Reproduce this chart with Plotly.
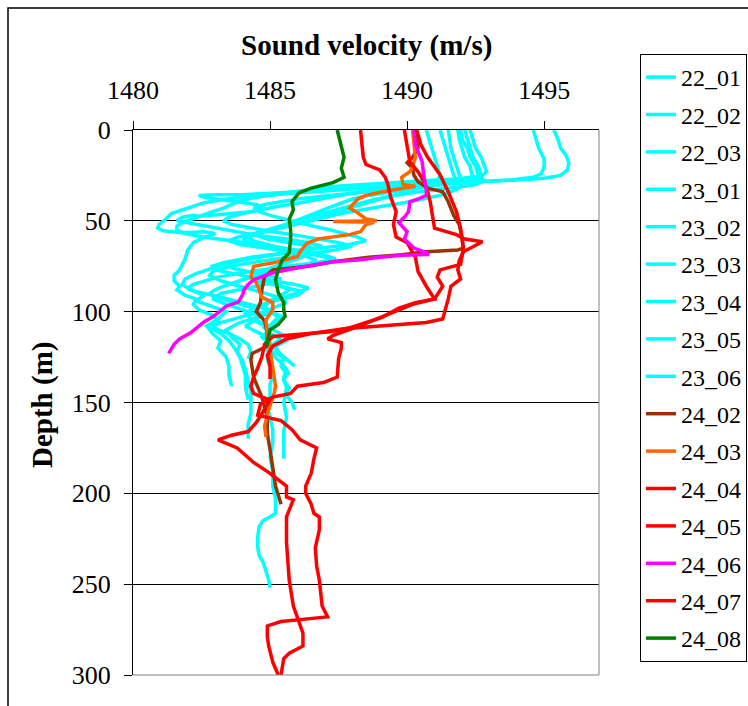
import plotly.graph_objects as go

# ---------------- data (depth in m, sound velocity in m/s) ----------------
series_names = ["22_01", "22_02", "22_03", "23_01", "23_02", "23_03", "23_04", "23_05", "23_06",
                "24_02", "24_03", "24_04", "24_05", "24_06", "24_07", "24_08"]
series_colors = ["#00FFFF"] * 9 + ["#993300", "#FF6600", "#FF0000", "#FF0000", "#FF00FF", "#FF0000", "#008000"]

d_22_01 = [0, 5, 10, 14, 18, 22, 25, 26.5, 27.5, 28.5, 29.5, 30.5, 32, 33.5, 35, 36.5, 38, 40, 43, 46, 49, 52, 54, 55.5, 56.5, 56, 57, 59, 62, 66, 71, 77, 80, 83, 86, 88, 91, 93, 96, 99, 102, 105, 108, 112, 116, 120, 125, 130, 135, 141]
v_22_01 = [1495.35, 1495.5, 1495.6, 1495.8, 1495.9, 1495.85, 1495.6, 1495.0, 1494.0, 1492.8, 1491.3, 1489.8, 1488.3, 1487.0, 1485.7, 1484.4, 1483.4, 1482.6, 1482.0, 1481.4, 1481.2, 1480.95, 1480.9, 1481.1, 1481.8, 1482.6, 1483.0, 1482.6, 1482.2, 1482.0, 1481.9, 1481.7, 1481.5, 1481.5, 1481.7, 1481.6, 1481.9, 1482.3, 1482.2, 1482.4, 1482.9, 1483.1, 1482.7, 1482.9, 1483.2, 1483.1, 1483.4, 1483.5, 1483.5, 1483.6]

d_22_02 = [0, 5, 10, 16, 20, 24, 26, 27.5, 28.5, 29.5, 30.5, 31.5, 33, 34.5, 35.6, 35.6, 36, 37, 39, 41, 43, 45, 46, 47, 47.5, 47, 48, 50, 52, 55, 58, 60, 62, 64, 66, 68, 70, 73, 76, 79, 82, 85, 88, 91, 94, 97, 100, 104, 108, 112, 116, 120, 125, 130, 135, 141, 148.5]
v_22_02 = [1494.6, 1494.7, 1494.8, 1495.0, 1495.0, 1494.9, 1494.6, 1493.8, 1492.5, 1491.0, 1489.6, 1488.3, 1486.9, 1485.4, 1484.0, 1483.0, 1482.4, 1482.6, 1483.6, 1484.5, 1484.8, 1484.3, 1483.6, 1482.9, 1482.4, 1482.2, 1481.8, 1481.6, 1482.3, 1483.4, 1484.5, 1485.6, 1486.4, 1486.9, 1486.3, 1485.4, 1484.3, 1483.5, 1482.9, 1482.3, 1481.9, 1481.8, 1482.1, 1482.6, 1482.3, 1482.9, 1483.4, 1483.1, 1482.7, 1483.2, 1483.5, 1483.7, 1483.9, 1484.0, 1484.1, 1484.1, 1484.2]

d_22_03 = [0, 5, 10, 15, 19, 23, 25.5, 27, 28, 29, 30, 31, 32.5, 34, 35.5, 37, 39, 41, 43, 45, 47, 49, 51, 53, 55, 57, 59, 61, 63, 65, 67, 69, 71, 73, 75, 77, 79, 81, 83, 85, 87, 89, 91, 94, 97, 100, 103, 106, 110, 114, 118, 122, 127, 132, 138, 144, 150, 156, 162, 170]
v_22_03 = [1492.3, 1492.4, 1492.5, 1492.7, 1492.8, 1492.9, 1492.7, 1491.8, 1490.6, 1489.4, 1488.3, 1487.4, 1486.6, 1485.9, 1485.2, 1484.5, 1483.9, 1483.6, 1483.3, 1482.9, 1482.5, 1482.1, 1481.8, 1481.6, 1481.6, 1481.9, 1482.6, 1483.6, 1484.6, 1485.5, 1486.3, 1487.0, 1487.4, 1486.7, 1485.6, 1484.6, 1483.8, 1483.1, 1482.6, 1482.2, 1482.0, 1482.3, 1482.9, 1483.7, 1484.5, 1485.1, 1484.6, 1483.9, 1483.4, 1483.6, 1483.9, 1483.8, 1484.0, 1484.1, 1484.2, 1484.3, 1484.3, 1484.3, 1484.2, 1484.2]

d_23_01 = [0, 5, 10, 15, 20, 25, 27, 28.5, 29.5, 31, 32.5, 34, 36, 38, 40, 42, 44, 46, 48, 50, 52, 54, 56, 58, 60, 62, 64, 66, 68, 70, 72, 74, 76, 78, 80, 83, 86, 89, 92, 95, 98, 101, 104, 107, 110, 113, 116, 119, 122, 125, 128, 132, 136, 142, 150, 158, 166, 174, 181]
v_23_01 = [1491.95, 1492.0, 1492.2, 1492.3, 1492.5, 1492.6, 1492.7, 1492.2, 1491.0, 1489.9, 1489.0, 1488.3, 1487.6, 1486.9, 1486.1, 1485.3, 1484.6, 1484.0, 1483.5, 1483.3, 1483.6, 1484.3, 1485.1, 1486.0, 1486.8, 1487.5, 1488.0, 1487.4, 1486.5, 1485.6, 1484.7, 1483.9, 1483.3, 1482.9, 1482.8, 1483.2, 1483.9, 1484.6, 1485.3, 1485.6, 1485.1, 1484.6, 1484.4, 1484.8, 1485.1, 1485.5, 1485.6, 1485.2, 1485.3, 1485.5, 1485.4, 1485.6, 1485.5, 1485.6, 1485.5, 1485.6, 1485.5, 1485.5, 1485.5]

d_23_02 = [0, 5, 10, 15, 20, 24, 27, 29, 30.5, 32, 33.5, 35, 36.5, 38, 39.5, 41, 43, 45, 47, 49, 51, 53, 55, 57, 59, 61, 63, 65, 67, 69, 71, 73, 75, 77, 79, 81, 83, 85, 87, 89, 92, 95, 98, 101, 104, 107, 110, 114, 118, 122, 126, 130, 134, 138, 142, 146, 150, 154]
v_23_02 = [1491.85, 1491.9, 1492.0, 1492.1, 1492.3, 1492.35, 1492.4, 1492.0, 1491.1, 1490.0, 1488.9, 1487.8, 1486.9, 1486.0, 1485.3, 1484.8, 1484.4, 1484.6, 1485.0, 1485.5, 1486.0, 1486.6, 1487.2, 1487.7, 1488.2, 1488.5, 1487.9, 1486.9, 1485.9, 1484.9, 1484.0, 1483.3, 1482.9, 1483.0, 1483.6, 1484.3, 1485.1, 1485.9, 1486.4, 1486.1, 1485.5, 1484.9, 1484.4, 1484.1, 1484.3, 1484.7, 1485.0, 1484.7, 1485.0, 1485.3, 1485.5, 1485.4, 1485.6, 1485.5, 1485.7, 1485.6, 1485.8, 1485.9]

d_23_03 = [0, 5, 10, 15, 20, 25, 29, 32, 34, 36, 38, 40, 42, 44, 46, 48, 50, 52, 54, 56, 58, 60, 62, 64, 66, 68, 70, 72, 74, 76, 78, 80, 82, 84, 86, 88, 90, 93, 96, 99, 102, 105, 108, 111, 114, 117, 120, 124, 128, 132, 135]
v_23_03 = [1491.5, 1491.55, 1491.6, 1491.7, 1491.8, 1491.9, 1492.0, 1491.9, 1491.6, 1491.2, 1490.6, 1489.9, 1489.1, 1488.3, 1487.6, 1487.0, 1486.5, 1486.0, 1485.4, 1484.8, 1484.5, 1484.9, 1485.7, 1486.5, 1486.1, 1485.4, 1484.6, 1483.9, 1483.4, 1483.6, 1484.2, 1484.9, 1485.4, 1485.1, 1484.5, 1483.8, 1483.2, 1482.9, 1483.4, 1484.0, 1484.6, 1484.4, 1484.1, 1484.5, 1484.9, 1485.0, 1484.8, 1485.1, 1485.4, 1485.6, 1485.7]

d_23_04 = [0, 5, 10, 15, 20, 25, 28, 30, 32, 34, 36, 38, 40, 43, 46, 49, 52, 55, 57, 59, 61, 63, 65, 67, 69, 71, 73, 75, 77, 79, 81, 83, 85, 87, 89, 91, 93, 95, 97, 100, 103, 106, 109, 112, 115, 118, 121, 125, 130]
v_23_04 = [1491.2, 1491.3, 1491.4, 1491.5, 1491.6, 1491.7, 1491.8, 1491.2, 1490.3, 1489.4, 1488.6, 1488.0, 1487.6, 1487.1, 1486.6, 1486.1, 1485.6, 1485.0, 1484.4, 1483.8, 1483.5, 1483.9, 1484.8, 1485.8, 1486.7, 1487.3, 1487.0, 1486.3, 1485.5, 1484.8, 1484.3, 1484.5, 1485.1, 1485.7, 1486.2, 1486.0, 1485.4, 1484.9, 1484.6, 1485.0, 1485.5, 1485.2, 1484.8, 1485.0, 1485.4, 1485.1, 1484.9, 1485.5, 1485.9]

d_23_05 = [0, 5, 10, 15, 20, 25, 28, 30, 32, 34, 36, 38, 40, 42, 44, 46, 48, 50, 52, 54, 56, 58, 60, 62, 64, 66, 68, 70, 72, 74, 76, 78, 80, 82, 84, 86, 88, 90, 92, 94, 96, 98, 100, 102, 104, 106, 108, 110, 112, 115, 118, 122, 126]
v_23_05 = [1490.7, 1490.8, 1490.9, 1491.0, 1491.1, 1491.2, 1491.1, 1490.8, 1490.4, 1490.0, 1489.5, 1489.0, 1488.5, 1488.1, 1487.7, 1487.3, 1486.9, 1486.4, 1485.8, 1485.2, 1484.7, 1484.3, 1484.0, 1484.3, 1484.8, 1485.4, 1485.9, 1486.4, 1486.7, 1486.3, 1485.7, 1485.1, 1484.6, 1484.1, 1483.7, 1483.3, 1483.0, 1482.8, 1483.0, 1483.5, 1484.0, 1484.4, 1484.6, 1484.2, 1483.7, 1483.2, 1482.9, 1483.1, 1483.5, 1483.9, 1484.2, 1484.3, 1484.2]

d_23_06 = [0, 5, 10, 15, 20, 25, 28, 30, 31.5, 33, 35, 37, 39, 41, 43, 45, 47, 49, 51, 53, 55, 57, 59, 61, 63, 65, 67, 70, 73, 76, 79, 82, 85, 88, 91, 94, 97, 100, 103, 106, 110, 114, 118, 122, 126, 130, 135, 140, 146, 152, 158, 165, 172, 180, 188, 196, 203, 208, 211, 213, 215, 218.5, 224, 229.6, 234, 238, 243, 247.6, 252]
v_23_06 = [1492.1, 1492.2, 1492.3, 1492.4, 1492.6, 1492.7, 1492.8, 1492.5, 1491.8, 1490.9, 1490.0, 1489.2, 1488.6, 1488.1, 1487.6, 1487.2, 1486.7, 1486.2, 1485.8, 1485.3, 1484.9, 1484.5, 1484.2, 1484.4, 1484.9, 1485.4, 1485.9, 1486.2, 1485.6, 1485.0, 1484.6, 1484.9, 1485.3, 1485.7, 1485.4, 1485.0, 1484.8, 1485.0, 1485.3, 1485.1, 1484.9, 1484.8, 1484.9, 1485.0, 1484.9, 1485.0, 1485.1, 1485.0, 1485.0, 1484.9, 1485.0, 1485.1, 1485.1, 1485.0, 1485.1, 1485.1, 1485.2, 1485.2, 1485.2, 1485.0, 1484.75, 1484.6, 1484.55, 1484.55, 1484.6, 1484.75, 1484.85, 1484.95, 1485.0]

d_24_02 = [0, 5, 10, 15, 18, 21, 25, 28.5, 32, 34, 39.5, 47, 52, 59, 65, 66, 67, 68.6, 70, 72.5, 75, 77, 80.7, 88, 95, 100, 105, 112, 119, 123, 126.5, 136, 147, 158, 167, 176, 185, 196, 206]
v_24_02 = [1490.3, 1490.35, 1490.4, 1490.2, 1490.0, 1490.2, 1490.25, 1490.4, 1490.75, 1491.3, 1491.5, 1491.7, 1491.9, 1492.0, 1492.05, 1491.85, 1490.7, 1489.8, 1488.6, 1487.3, 1486.4, 1485.1, 1484.8, 1484.7, 1484.65, 1484.5, 1484.8, 1484.9, 1484.9, 1484.35, 1484.3, 1484.4, 1484.7, 1484.9, 1484.9, 1485.0, 1485.1, 1485.2, 1485.4]

d_24_03 = [0, 8, 15, 20, 23, 26, 30, 31, 34, 36, 38, 43, 45.6, 49, 50, 50.4, 50.8, 52, 56, 57.6, 59, 60, 62, 63, 67, 69.6, 72.5, 75, 81, 84, 88, 92, 95, 99, 104.5, 112, 121, 130, 141, 145, 154, 163, 169]
v_24_03 = [1490.2, 1490.25, 1490.3, 1490.2, 1490.1, 1489.8, 1489.85, 1490.3, 1489.1, 1488.5, 1488.2, 1487.9, 1488.2, 1488.5, 1488.9, 1487.3, 1488.8, 1488.5, 1488.3, 1487.9, 1487.3, 1486.75, 1486.4, 1486.3, 1486.1, 1486.0, 1485.3, 1484.4, 1484.3, 1484.5, 1484.6, 1484.7, 1485.1, 1485.1, 1484.85, 1484.9, 1485.0, 1485.1, 1485.2, 1485.15, 1484.95, 1484.8, 1484.85]

d_24_04 = [0, 5, 10, 17.6, 23, 28, 34, 40, 45, 50, 54, 57.6, 60, 61.5, 64, 67, 72, 77, 82, 86, 93, 99, 104, 106, 107, 108, 109, 113, 115, 117, 120, 126, 136, 139, 141, 145, 147, 151, 157, 160, 165, 170.6, 175, 181, 189, 196, 200, 206, 211, 213, 220, 230, 240, 248, 255, 262, 268, 269.5, 270.6, 273, 279, 284, 293, 300]
v_24_04 = [1489.9, 1489.95, 1490.0, 1490.1, 1490.4, 1490.6, 1490.75, 1490.85, 1490.9, 1490.95, 1491.0, 1491.8, 1492.1, 1492.75, 1492.4, 1492.05, 1491.9, 1491.85, 1491.95, 1491.6, 1491.5, 1491.4, 1491.3, 1490.7, 1489.8, 1488.8, 1488.05, 1487.3, 1487.1, 1487.6, 1487.6, 1487.5, 1487.45, 1486.95, 1486.0, 1485.75, 1485.1, 1484.65, 1484.55, 1485.4, 1485.8, 1486.1, 1486.7, 1486.6, 1486.5, 1486.3, 1486.3, 1486.5, 1486.6, 1486.8, 1486.8, 1486.65, 1486.7, 1486.8, 1486.85, 1486.9, 1487.1, 1486.0, 1485.4, 1484.9, 1484.9, 1484.95, 1485.1, 1485.3]

d_24_05 = [0, 8, 15, 19, 22, 26, 30, 37, 45, 52, 59, 62, 66, 70, 78, 86, 93, 95, 98, 103, 109, 112, 115, 119, 124, 130, 137]
v_24_05 = [1488.3, 1488.35, 1488.4, 1488.5, 1489.0, 1489.2, 1489.3, 1489.4, 1489.6, 1489.5, 1489.6, 1490.0, 1490.15, 1490.3, 1490.4, 1490.7, 1491.0, 1490.3, 1489.7, 1489.1, 1487.9, 1486.5, 1485.6, 1485.1, 1484.9, 1485.0, 1485.0]

d_24_06 = [0, 8, 17.5, 24.6, 32, 36, 38, 39.5, 45, 48, 51, 56, 60, 65, 67.5, 68.5, 69, 70, 71.4, 72.5, 75, 78.6, 82.4, 85, 88, 90.6, 94.6, 97, 100.6, 103, 105.5, 111.6, 115, 118, 123]
v_24_06 = [1490.25, 1490.3, 1490.55, 1490.6, 1490.7, 1490.7, 1490.4, 1490.1, 1490.05, 1489.9, 1489.7, 1490.0, 1489.9, 1490.25, 1490.7, 1490.8, 1489.8, 1489.0, 1488.3, 1487.3, 1486.3, 1485.1, 1484.4, 1484.2, 1484.05, 1484.0, 1483.85, 1483.4, 1483.1, 1482.9, 1482.6, 1482.1, 1481.7, 1481.5, 1481.3]

d_24_07 = [0, 8, 15, 24.6, 34, 45, 54, 65, 70, 74, 77, 81, 86, 93, 96, 101, 107.7, 111, 112.6, 113.7, 118, 125, 131, 136, 141, 145, 147, 148.5, 155, 161, 166, 168, 170.6, 172.6, 175, 183, 189, 196, 202, 203.5, 213, 227, 238, 248, 262, 269, 277, 284, 288, 291, 300]
v_24_07 = [1490.35, 1490.5, 1490.75, 1491.2, 1491.5, 1491.8, 1491.95, 1492.05, 1492.0, 1491.95, 1491.2, 1491.1, 1491.3, 1491.0, 1490.2, 1489.4, 1488.3, 1487.2, 1486.1, 1485.1, 1484.8, 1484.7, 1484.55, 1484.4, 1484.3, 1484.4, 1484.7, 1485.0, 1484.75, 1484.5, 1484.2, 1483.6, 1483.1, 1483.4, 1483.8, 1484.4, 1485.0, 1485.6, 1485.6, 1485.85, 1485.6, 1485.6, 1485.65, 1485.7, 1485.85, 1486.0, 1486.2, 1486.2, 1485.7, 1485.5, 1485.4]

d_24_08 = [0, 8, 15, 21, 26, 29, 31, 32, 34.6, 39.5, 44, 49, 55, 60, 67.6, 71.4, 77, 82.4, 89.6, 95, 99, 102.6, 107, 110, 117, 119]
v_24_08 = [1487.45, 1487.6, 1487.7, 1487.6, 1487.7, 1487.3, 1486.8, 1486.5, 1486.05, 1485.8, 1485.85, 1485.7, 1485.75, 1485.75, 1485.7, 1485.45, 1485.3, 1485.2, 1485.3, 1485.5, 1485.5, 1485.55, 1485.3, 1485.0, 1484.9, 1484.9]

x_ticks = [1480, 1485, 1490, 1495]
y_ticks = [0, 50, 100, 150, 200, 250, 300]

series_data = [
    (d_22_01, v_22_01), (d_22_02, v_22_02), (d_22_03, v_22_03),
    (d_23_01, v_23_01), (d_23_02, v_23_02), (d_23_03, v_23_03),
    (d_23_04, v_23_04), (d_23_05, v_23_05), (d_23_06, v_23_06),
    (d_24_02, v_24_02), (d_24_03, v_24_03), (d_24_04, v_24_04),
    (d_24_05, v_24_05), (d_24_06, v_24_06), (d_24_07, v_24_07),
    (d_24_08, v_24_08),
]

# ---------------- figure ----------------
FONT = "Liberation Serif, Times New Roman, serif"
fig = go.Figure()
for name, color, (dd, vv) in zip(series_names, series_colors, series_data):
    fig.add_trace(go.Scatter(x=vv, y=dd, mode="lines", name=name, legendgroup=name,
                             line=dict(color=color, width=3.5)))

W, H = 748, 706
L, R, T, B = 133, 599, 130, 675
pw, ph = R - L, B - T


def px(xp):
    return (xp - L) / pw


def py(yp):
    return (B - yp) / ph


fig.update_layout(
    width=W, height=H,
    margin=dict(l=L, r=W - R, t=T, b=H - B, autoexpand=False),
    paper_bgcolor="white", plot_bgcolor="white",
    font=dict(family=FONT, color="black", size=26),
    showlegend=True,
    legend=dict(x=px(640), y=py(54), xanchor="left", yanchor="top",
                bordercolor="black", borderwidth=1, bgcolor="white",
                font=dict(family=FONT, size=24, color="black"),
                traceorder="grouped", tracegroupgap=3.2, itemwidth=30, maxheight=680),
    xaxis=dict(side="top", range=[1480, 1497], tickvals=x_ticks, showgrid=False, zeroline=False,
               showline=True, linecolor="black", linewidth=1, ticks="outside", ticklen=8,
               tickcolor="black", tickfont=dict(family=FONT, size=26), ticklabelstandoff=12),
    yaxis=dict(range=[300, 0], tickvals=y_ticks, showgrid=True, gridcolor="black", gridwidth=1,
               zeroline=False, showline=True, linecolor="black", linewidth=1, ticks="outside",
               ticklen=8, tickcolor="black", tickfont=dict(family=FONT, size=26), ticklabelstandoff=8),
    annotations=[
        dict(text="<b>Sound velocity (m/s)</b>", x=px(366), y=py(45), xref="paper", yref="paper",
             showarrow=False, xanchor="center", yanchor="middle", font=dict(family=FONT, size=29)),
        dict(text="<b>Depth (m)</b>", x=px(42), y=py(405), xref="paper", yref="paper",
             showarrow=False, xanchor="center", yanchor="middle", textangle=-90,
             font=dict(family=FONT, size=29)),
    ],
    shapes=[
        dict(type="line", xref="paper", yref="paper", x0=1, x1=1, y0=0, y1=1,
             line=dict(color="#808080", width=1)),
        dict(type="line", xref="paper", yref="paper", x0=0, x1=1, y0=0, y1=0,
             line=dict(color="#808080", width=1)),
        dict(type="rect", xref="paper", yref="paper", x0=px(8), x1=px(770), y0=py(720), y1=py(8),
             line=dict(color="black", width=1.5), fillcolor="rgba(0,0,0,0)"),
    ],
)

fig.write_html("out.html")
